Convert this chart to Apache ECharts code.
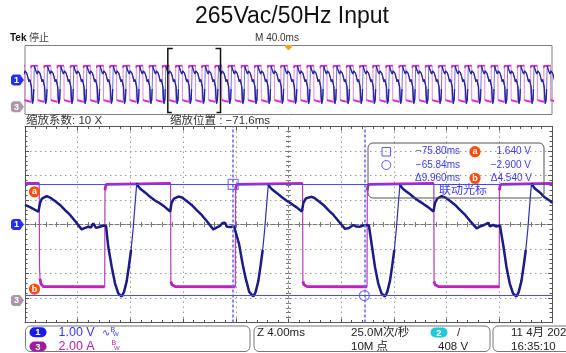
<!DOCTYPE html>
<html>
<head>
<meta charset="utf-8">
<script src="https://cdn.jsdelivr.net/npm/echarts@6/dist/echarts.min.js"></script>
<style>
  html, body { margin: 0; padding: 0; background: #fff; }
  #scope { width: 566px; height: 353px; }
</style>
</head>
<body>
<div id="scope"></div>
<script>
// ---- acquisition settings -------------------------------------------------
const chartTitle = '265Vac/50Hz Input';
const overviewSpanMs = 400;        // 10 div x 40.0 ms
const zoomSpanMs = 40;             // 10 div x 4.00 ms
const zoomCenterMs = -71.6;
const ch1VoltsPerDiv = 1.0;
const ch3AmpsPerDiv = 2.0;
const ch3OffsetDiv = -3.1;         // CH3 ground marker below screen centre
const cycleMs = 9.98;              // switching cycle seen on CH3

// cursor pair (CH1)
const cursorTimesMs = [-75.80, -65.84];
const cursorVolts = [1.64, -2.90];

// ---- CH1 trace in zoom window: [time ms, volts] ---------------------------
const ch1Trace = [
  [-91.60,0.80],[-91.22,0.71],[-90.58,0.52],
  [-90.46,0.88],[-90.31,1.06],[-89.95,1.16],[-89.70,1.10],
  [-89.32,0.96],[-88.94,0.80],[-88.56,0.59],[-88.18,0.39],[-87.80,0.14],[-87.30,-0.20],
  [-87.05,-0.14],[-86.80,-0.09],[-86.59,-0.12],[-86.42,0.05],[-86.21,-0.14],[-85.91,-0.09],[-85.66,-0.04],[-85.45,-0.06],
  [-85.28,-0.91],[-85.02,-1.72],[-84.77,-2.40],[-84.52,-2.81],[-84.26,-2.94],
  [-84.09,-2.76],[-83.88,-2.31],[-83.71,-1.69],[-83.55,-1.04],[-83.40,-0.22],[-83.25,0.80],[-83.12,1.68],
  [-83.02,1.57],[-82.87,1.47],[-82.49,1.31],[-82.11,1.13],[-81.73,0.98],[-81.35,0.86],[-80.97,0.71],[-80.58,0.53],

  [-80.48,0.88],[-80.29,1.06],[-79.96,1.14],[-79.68,1.10],
  [-79.33,0.96],[-78.95,0.80],[-78.57,0.59],[-78.19,0.39],[-77.81,0.14],[-77.31,-0.20],
  [-77.03,-0.12],[-76.80,-0.06],[-76.61,0.06],[-76.42,0.07],[-76.27,-0.09],[-75.96,-0.10],[-75.74,-0.06],[-75.59,-0.02],
  [-75.35,-0.80],[-75.08,-1.62],[-74.85,-2.20],[-74.58,-2.75],[-74.27,-2.94],
  [-74.10,-2.76],[-73.89,-2.31],[-73.72,-1.69],[-73.56,-1.04],[-73.41,-0.22],[-73.26,0.80],[-73.13,1.64],
  [-73.03,1.54],[-72.88,1.45],[-72.50,1.29],[-72.12,1.12],[-71.74,0.97],[-71.36,0.84],[-70.98,0.70],[-70.59,0.53],

  [-70.47,0.88],[-70.29,1.06],[-69.90,1.13],[-69.65,1.09],
  [-69.33,0.96],[-68.95,0.80],[-68.57,0.59],[-68.19,0.39],[-67.81,0.14],[-67.31,-0.18],
  [-67.01,-0.14],[-66.68,-0.02],[-66.48,-0.08],[-66.17,-0.09],[-65.95,-0.04],[-65.66,-0.02],[-65.50,-0.04],
  [-65.26,-0.91],[-65.04,-1.72],[-64.79,-2.40],[-64.54,-2.81],[-64.28,-2.94],
  [-64.11,-2.76],[-63.90,-2.31],[-63.73,-1.69],[-63.57,-1.04],[-63.42,-0.22],[-63.27,0.80],[-63.14,1.63],
  [-63.03,1.53],[-62.88,1.44],[-62.50,1.29],[-62.12,1.12],[-61.74,0.97],[-61.36,0.84],[-60.98,0.70],[-60.60,0.53],

  [-60.48,0.88],[-60.30,1.06],[-59.97,1.16],[-59.70,1.10],
  [-59.33,0.96],[-58.95,0.80],[-58.57,0.59],[-58.19,0.39],[-57.81,0.14],[-57.32,-0.16],
  [-57.07,-0.08],[-56.76,-0.02],[-56.44,0.07],[-56.31,-0.08],[-56.08,-0.02],[-55.85,-0.08],[-55.55,-0.04],
  [-55.28,-0.91],[-55.06,-1.72],[-54.81,-2.40],[-54.56,-2.81],[-54.30,-2.94],
  [-54.13,-2.76],[-53.92,-2.31],[-53.75,-1.69],[-53.59,-1.04],[-53.44,-0.22],[-53.29,0.80],[-53.16,1.68],
  [-53.05,1.57],[-52.90,1.47],[-52.52,1.31],[-52.14,1.10],[-51.76,0.97],[-51.60,0.88]
];

// ---- CH3 trace in zoom window: [time ms, amps] ----------------------------
const ch3Trace = [
  [-91.60,9.55],[-90.52,9.55],[-90.50,2.75],[-90.46,1.77],[-90.39,1.36],[-90.23,1.14],
  [-85.55,1.12],[-85.53,9.00],[-85.49,9.30],[-85.43,9.47],[-85.28,9.55],
  [-80.55,9.55],[-80.53,1.55],[-80.45,1.28],[-80.21,1.14],
  [-75.64,1.12],[-75.62,9.00],[-75.58,9.30],[-75.52,9.47],[-75.37,9.55],
  [-70.53,9.55],[-70.51,1.55],[-70.43,1.28],[-70.19,1.14],
  [-65.64,1.12],[-65.62,9.00],[-65.58,9.30],[-65.52,9.47],[-65.37,9.55],
  [-60.57,9.55],[-60.55,1.55],[-60.47,1.28],[-60.23,1.14],
  [-55.61,1.12],[-55.59,9.00],[-55.55,9.30],[-55.49,9.47],[-55.34,9.55],
  [-51.60,9.55]
];

// ---- overview: the recorded cycle repeated over the full record -----------
const cycleStart = -80.55;   // a CH3 falling edge
function oneCycle(trace) {
  return trace.filter(p => p[0] >= cycleStart && p[0] < cycleStart + cycleMs)
              .map(p => [p[0] - cycleStart, p[1]]);
}
function repeatCycle(cycle) {
  const out = [];
  const half = overviewSpanMs / 2;
  for (let k = -14; k <= 30; k++) {
    const base = cycleStart + k * cycleMs;
    cycle.forEach(p => {
      const t = base + p[0];
      if (t >= -half - cycleMs && t <= half + cycleMs) out.push([t, p[1]]);
    });
  }
  return out;
}
const ch1Overview = repeatCycle(oneCycle(ch1Trace));
const ch3Overview = repeatCycle(oneCycle(ch3Trace));

// The scope paints fast edges faint and thin; keep only the slow stretches
// for the heavy stroke, with a gap wherever the slope exceeds `limit`.
function slowParts(trace, limit) {
  const out = [];
  for (let i = 0; i < trace.length - 1; i++) {
    const [t0, v0] = trace[i], [t1, v1] = trace[i + 1];
    const slow = Math.abs((v1 - v0) / (t1 - t0)) <= limit;
    const last = out[out.length - 1];
    if (slow) {
      if (!last || last[1] === '-' || last[0] !== t0) out.push([t0, v0]);
      out.push([t1, v1]);
    } else if (last && last[1] !== '-') {
      out.push([(t0 + t1) / 2, '-']);
    }
  }
  return out;
}

// ---- layout ----------------------------------------------------------------
const FONT = '"Liberation Sans", "Noto Sans CJK SC", sans-serif';
const ovRect = { left: 25, top: 45.5, width: 527, height: 69 };
const mainRect = { left: 25, top: 126.5, width: 527, height: 196 };
const zMin = zoomCenterMs - zoomSpanMs / 2, zMax = zoomCenterMs + zoomSpanMs / 2;
const ch3Min = (-4 - ch3OffsetDiv) * ch3AmpsPerDiv;
const ch3Max = (4 - ch3OffsetDiv) * ch3AmpsPerDiv;

const frameColor = '#555';
function gratAxis(extra) {
  return Object.assign({
    type: 'value', gridIndex: 1, interval: 1,
    axisLabel: { show: false },
    axisLine: { show: true, onZero: false, lineStyle: { color: frameColor, width: 1 } },
    axisTick: { show: true, inside: true, length: 4, lineStyle: { color: frameColor } },
    minorTick: { show: true, splitNumber: 5, length: 2.5, lineStyle: { color: frameColor } },
    splitLine: { show: false }
  }, extra);
}
const dotted = { show: true, lineStyle: { color: '#9a9a9a', type: [1.5, 3.5], width: 1 } };
const centreTicks = (inside) => ({
  axisTick: { show: true, inside, length: 3, lineStyle: { color: '#777' } },
  minorTick: { show: true, splitNumber: 5, length: 2.5, lineStyle: { color: '#777' } }
});

const lineBase = { type: 'line', showSymbol: false, silent: true, connectNulls: false };

const option = {
  animation: false,
  backgroundColor: '#fff',
  grid: [
    Object.assign({ show: true, borderColor: '#808080', borderWidth: 1, backgroundColor: 'transparent' }, ovRect),
    Object.assign({ show: false }, mainRect)
  ],
  xAxis: [
    { type: 'value', gridIndex: 0, min: -overviewSpanMs / 2, max: overviewSpanMs / 2, show: false },
    gratAxis({ min: 0, max: 10, position: 'bottom', splitLine: dotted }),
    gratAxis({ min: 0, max: 10, position: 'top' }),
    gratAxis(Object.assign({ min: 0, max: 10, position: 'bottom', offset: -mainRect.height / 2,
      axisLine: { show: true, onZero: false, lineStyle: { color: '#777', type: [4, 2] } } }, centreTicks(true))),
    gratAxis(Object.assign({ min: 0, max: 10, position: 'bottom', offset: -mainRect.height / 2,
      axisLine: { show: false, onZero: false } }, centreTicks(false))),
    { type: 'value', gridIndex: 1, min: zMin, max: zMax, show: false }
  ],
  yAxis: [
    { type: 'value', gridIndex: 0, min: -4 * ch1VoltsPerDiv, max: 4 * ch1VoltsPerDiv, show: false },
    { type: 'value', gridIndex: 0, min: ch3Min, max: ch3Max, show: false },
    gratAxis({ min: -4, max: 4, position: 'left', splitLine: dotted }),
    gratAxis({ min: -4, max: 4, position: 'right' }),
    gratAxis(Object.assign({ min: -4, max: 4, position: 'left', offset: -mainRect.width / 2,
      axisLine: { show: true, onZero: false, lineStyle: { color: '#888', type: [1.5, 3.5] } } }, centreTicks(true))),
    gratAxis(Object.assign({ min: -4, max: 4, position: 'left', offset: -mainRect.width / 2,
      axisLine: { show: false, onZero: false } }, centreTicks(false))),
    { type: 'value', gridIndex: 1, min: -4 * ch1VoltsPerDiv, max: 4 * ch1VoltsPerDiv, show: false },
    { type: 'value', gridIndex: 1, min: ch3Min, max: ch3Max, show: false }
  ],
  series: [
    // overview
    Object.assign({}, lineBase, { xAxisIndex: 0, yAxisIndex: 1, data: ch3Overview,
      lineStyle: { color: '#e08ae0', width: 1 } }),
    Object.assign({}, lineBase, { xAxisIndex: 0, yAxisIndex: 1, data: slowParts(ch3Overview, 20),
      lineStyle: { color: '#d626d6', width: 1.8 } }),
    Object.assign({}, lineBase, { xAxisIndex: 0, yAxisIndex: 0, data: ch1Overview,
      lineStyle: { color: '#7070d0', width: 1 } }),
    Object.assign({}, lineBase, { xAxisIndex: 0, yAxisIndex: 0, data: slowParts(ch1Overview, 5),
      lineStyle: { color: '#24249e', width: 1.3 } }),
    // zoom window
    Object.assign({}, lineBase, { xAxisIndex: 5, yAxisIndex: 7, data: ch3Trace,
      lineStyle: { color: '#b43cb4', width: 1.2 } }),
    Object.assign({}, lineBase, { xAxisIndex: 5, yAxisIndex: 7, data: slowParts(ch3Trace, 20),
      lineStyle: { color: '#c21fc2', width: 2.8 } }),
    Object.assign({}, lineBase, { xAxisIndex: 5, yAxisIndex: 6, data: ch1Trace,
      lineStyle: { color: '#2f2fb0', width: 1.2 } }),
    Object.assign({}, lineBase, { xAxisIndex: 5, yAxisIndex: 6, data: slowParts(ch1Trace, 5),
      lineStyle: { color: '#1c1c86', width: 2.5 } }),
    { type: 'scatter', xAxisIndex: 5, yAxisIndex: 6, silent: true, z: 6,
      data: [
        { value: [cursorTimesMs[0], cursorVolts[0]], symbol: 'rect' },
        { value: [cursorTimesMs[1], cursorVolts[1]], symbol: 'circle' }
      ],
      symbolSize: 10,
      itemStyle: { color: 'rgba(255,255,255,0)', borderColor: '#5a5aff', borderWidth: 1.2 },
      markLine: {
        silent: true, symbol: ['none', 'none'], label: { show: false }, animation: false,
        data: [
          { xAxis: cursorTimesMs[0], lineStyle: { color: '#6b6bff', type: [3, 2], width: 1.6 } },
          { xAxis: cursorTimesMs[1], lineStyle: { color: '#6b6bff', type: [3, 2], width: 1.6 } },
          { yAxis: cursorVolts[0], lineStyle: { color: '#4c4cff', type: 'solid', width: 1 } },
          { yAxis: cursorVolts[1], lineStyle: { color: '#4c4cff', type: 'solid', width: 1 } }
        ]
      }
    }
  ]
};

const chart = echarts.init(document.getElementById('scope'), null, { renderer: 'canvas' });
chart.setOption(option);

// ---- annotations placed from the axes -------------------------------------
const toX = (i, v) => chart.convertToPixel({ xAxisIndex: i }, v);
const toY = (i, v) => chart.convertToPixel({ yAxisIndex: i }, v);
const minus = s => s.replace('-', '\u2212');

function txt(text, x, y, size, color, align, weight) {
  return {
    type: 'text', silent: true, z: 21,
    style: { text, x, y, fill: color, font: (weight ? weight + ' ' : '') + size + 'px ' + FONT,
             textAlign: align || 'left', textVerticalAlign: 'middle',
             align: align || 'left', verticalAlign: 'middle' }
  };
}
function badge(label, x0, cy, color) {
  return [
    { type: 'polygon', silent: true, z: 20,
      shape: { points: [[x0 + 2, cy - 5.5], [x0 + 9, cy - 5.5], [x0 + 13, cy], [x0 + 9, cy + 5.5],
                        [x0 + 2, cy + 5.5], [x0, cy + 3.5], [x0, cy - 3.5]] },
      style: { fill: color } },
    txt(label, x0 + 5.5, cy + 0.5, 9, '#fff', 'center', 'bold')
  ];
}
function dot(label, cx, cy) {
  return [
    { type: 'circle', silent: true, z: 20, shape: { cx, cy, r: 5.6 }, style: { fill: '#ff4e0a' } },
    txt(label, cx, cy, 9, '#fff', 'center', 'bold')
  ];
}
function pill(label, cx, cy, color) {
  return [
    { type: 'rect', silent: true, z: 20, shape: { x: cx - 8.5, y: cy - 5, width: 17, height: 10, r: 5 }, style: { fill: color } },
    txt(label, cx, cy + 0.5, 9.5, '#fff', 'center', 'bold')
  ];
}
function box(x, y, w, h) {
  return { type: 'rect', silent: true, z: 15, shape: { x, y, width: w, height: h, r: 5 },
           style: { fill: 'none', stroke: '#777', lineWidth: 1 } };
}

const g = [];
g.push(txt(chartTitle, 292, 17, 23, '#111', 'center'));
g.push(txt('Tek', 10, 38, 10, '#111', 'left', 'bold'));
g.push(txt('停止', 29, 38, 10, '#444', 'left'));
g.push(txt('M ' + (overviewSpanMs / 10).toFixed(1) + 'ms', 277, 38, 10, '#333', 'center'));

// trigger point marker on the overview
const trigX = toX(0, 0);
g.push({ type: 'polygon', silent: true, z: 20,
  shape: { points: [[trigX - 3, 45], [trigX + 3, 45], [trigX + 3, 47.5], [trigX, 50.5], [trigX - 3, 47.5]] },
  style: { fill: '#f5a21b' } });

// zoom bracket on the overview
const bl = toX(0, zMin), br = toX(0, zMax);
g.push({ type: 'polyline', silent: true, z: 20, shape: { points: [[bl + 5, 48.5], [bl, 48.5], [bl, 112.5], [bl + 4, 112.5]] },
  style: { stroke: '#111', lineWidth: 1.5, fill: null } });
g.push({ type: 'polyline', silent: true, z: 20, shape: { points: [[br - 5, 48.5], [br, 48.5], [br, 112.5], [br - 4, 112.5]] },
  style: { stroke: '#111', lineWidth: 1.5, fill: null } });

// channel ground markers
g.push(...badge('1', 11, toY(0, 0), '#2430f0'));
g.push(...badge('3', 11, toY(1, 0), '#a898a8'));
g.push(...badge('1', 11, toY(6, 0), '#2430f0'));
g.push(...badge('3', 11, toY(7, 0), '#a898a8'));

// zoom info
g.push(txt('缩放系数: ' + (overviewSpanMs / zoomSpanMs) + ' X', 26, 121, 11.5, '#333', 'left'));
g.push(txt('缩放位置 : ' + minus(zoomCenterMs.toFixed(1)) + 'ms', 170, 121, 11.5, '#333', 'left'));

// cursor level tags
g.push(...dot('a', 34.5, toY(6, cursorVolts[0]) + 7.5));
g.push(...dot('b', 34.5, toY(6, cursorVolts[1]) - 6.5));

// cursor readout
const blue = '#3c3cf0';
g.push({ type: 'rect', silent: true, z: 15, shape: { x: 368, y: 143, width: 176, height: 55, r: 5 },
  style: { fill: 'none', stroke: '#555', lineWidth: 1 } });
g.push({ type: 'rect', silent: true, z: 20, shape: { x: 382, y: 147.5, width: 8.5, height: 8.5 },
  style: { fill: 'none', stroke: '#5a5aff', lineWidth: 1 } });
g.push({ type: 'circle', silent: true, z: 20, shape: { cx: 386.3, cy: 165, r: 4.5 },
  style: { fill: 'none', stroke: '#5a5aff', lineWidth: 1 } });
const rowY = [151.7, 165, 178.3];
g.push(txt(minus(cursorTimesMs[0].toFixed(2)) + 'ms', 460, rowY[0], 10, blue, 'right'));
g.push(txt(minus(cursorTimesMs[1].toFixed(2)) + 'ms', 460, rowY[1], 10, blue, 'right'));
g.push(txt('Δ' + (cursorTimesMs[1] - cursorTimesMs[0]).toFixed(3) + 'ms', 460, rowY[2], 10, blue, 'right'));
g.push(txt(minus(cursorVolts[0].toFixed(3)) + ' V', 531, rowY[0], 10, blue, 'right'));
g.push(txt(minus(cursorVolts[1].toFixed(3)) + ' V', 531, rowY[1], 10, blue, 'right'));
g.push(txt('Δ' + Math.abs(cursorVolts[0] - cursorVolts[1]).toFixed(3) + ' V', 532, rowY[2], 10, blue, 'right'));
g.push(...dot('a', 475, rowY[0]));
g.push(...dot('b', 475, rowY[2]));
g.push(txt('联动光标', 463, 190.5, 12, blue, 'center'));

// status bar
g.push(box(25.5, 326, 224.5, 25.5));
g.push(box(254, 326, 236, 25.5));
g.push(box(493, 326, 90, 25.5));
g.push(...pill('1', 38, 332.3, '#1a1aef'));
g.push(...pill('3', 38, 346.5, '#9e1a9e'));
g.push(txt(ch1VoltsPerDiv.toFixed(2) + ' V', 58.5, 332.5, 12.5, '#3535f5', 'left'));
g.push(txt(ch3AmpsPerDiv.toFixed(2) + ' A', 58.5, 346.5, 12.5, '#b81cb8', 'left'));
g.push(txt('∿', 102, 333, 10, '#3535f5', 'left'));
g.push(txt('B', 110.5, 330, 7, '#3535f5', 'left'));
g.push(txt('W', 113, 334.5, 6, '#3535f5', 'left'));
g.push(txt('B', 111.5, 343.5, 7, '#b81cb8', 'left'));
g.push(txt('W', 114, 348, 6, '#b81cb8', 'left'));
g.push(txt('Z ' + (zoomSpanMs / 10).toFixed(2) + 'ms', 257, 333, 11.5, '#222', 'left'));
g.push(txt('25.0M次/秒', 351, 333, 11.5, '#222', 'left'));
g.push(txt('10M 点', 351, 346.5, 11.5, '#222', 'left'));
g.push(...pill('2', 439, 332.5, '#23c8d8'));
g.push(txt('/', 457, 333, 11.5, '#222', 'left'));
g.push(txt('408 V', 438, 346.5, 11.5, '#222', 'left'));
g.push(txt('11 4月 2023', 511, 333, 11.5, '#222', 'left'));
g.push(txt('16:35:10', 511, 346.5, 11.5, '#222', 'left'));

chart.setOption({ graphic: { elements: g } });
</script>
</body>
</html>
